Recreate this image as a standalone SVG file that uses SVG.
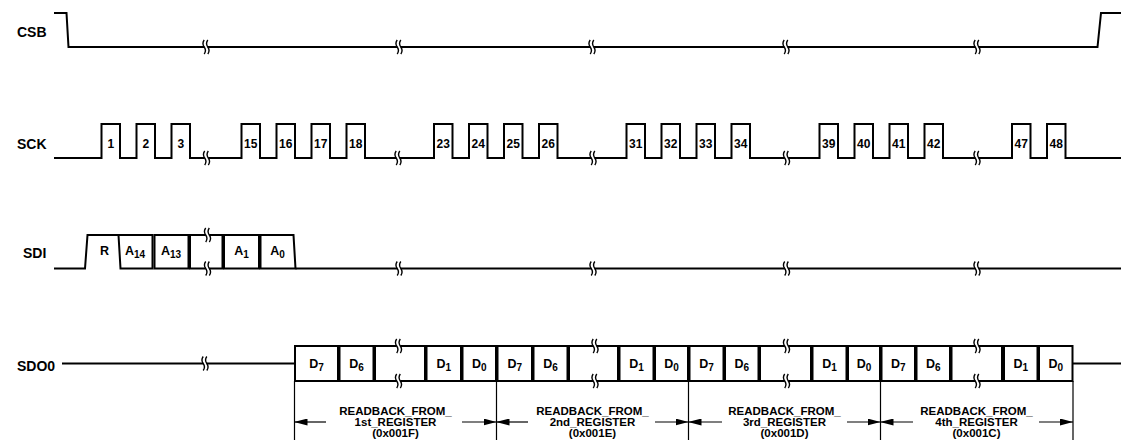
<svg xmlns="http://www.w3.org/2000/svg" width="1139" height="440" viewBox="0 0 1139 440">
<style>
.sig{fill:none;stroke:#000;stroke-width:2;stroke-linejoin:miter}
.box{fill:#fff;stroke:#000;stroke-width:2}
.sq{fill:none;stroke:#000;stroke-width:1.4}
.lbl{font-family:"Liberation Sans",Arial,sans-serif;font-weight:bold;font-size:14px;fill:#000}
.num{font-family:"Liberation Sans",Arial,sans-serif;font-weight:bold;font-size:12px;fill:#000;text-anchor:middle}
.bit{font-family:"Liberation Sans",Arial,sans-serif;font-weight:bold;font-size:12.5px;fill:#000;text-anchor:middle}
.sub{font-size:10px}
.dim{fill:none;stroke:#000;stroke-width:1.2}
.cap{font-family:"Liberation Sans",Arial,sans-serif;font-weight:bold;font-size:11.5px;fill:#000;text-anchor:middle}
</style>
<defs>
<g id="brk">
<rect x="-1.8" y="-3" width="3.6" height="6" fill="#fff"/>
<path class="sq" d="M-1.8,-7 q-2.5,3.5 0,7 q2.5,3.5 0,7"/>
<path class="sq" d="M1.8,-7 q-2.5,3.5 0,7 q2.5,3.5 0,7"/>
</g>
<marker id="arr" markerWidth="13" markerHeight="7" refX="13" refY="3.5" orient="auto" markerUnits="userSpaceOnUse">
<path d="M0,0 L13,3.5 L0,7 Z" fill="#000"/>
</marker>
</defs>
<rect width="1139" height="440" fill="#fff"/>

<g id="csb">
<text class="lbl" x="17" y="37">CSB</text>
<path class="sig" d="M54,13 H66.5 L68.5,47 H1097.5 L1101,13 H1121"/>
<use href="#brk" x="206" y="47"/>
<use href="#brk" x="399" y="47"/>
<use href="#brk" x="592" y="47"/>
<use href="#brk" x="786" y="47"/>
<use href="#brk" x="977" y="47"/>
</g>

<g id="sck">
<text class="lbl" x="17" y="149">SCK</text>
<path class="sig" d="M54,158 H101.5V124H120V158 H136.5V124H155V158 H171.5V124H190V158 H241.5V124H260V158 H276.5V124H295V158 H311.5V124H330V158 H346.5V124H365V158 H434V124H452.5V158 H469V124H487.5V158 H504V124H522.5V158 H539V124H557.5V158 H626.5V124H645V158 H661.5V124H680V158 H696.5V124H715V158 H731.5V124H750V158 H819.5V124H838V158 H854.5V124H873V158 H889.5V124H908V158 H924.5V124H943V158 H1012V124H1030.5V158 H1047V124H1065.5V158 H1121"/>
<use href="#brk" x="206.5" y="158"/>
<use href="#brk" x="398" y="158"/>
<use href="#brk" x="593" y="158"/>
<use href="#brk" x="786.5" y="158"/>
<use href="#brk" x="977" y="158"/>
<text class="num" x="110.75" y="148">1</text>
<text class="num" x="145.75" y="148">2</text>
<text class="num" x="180.75" y="148">3</text>
<text class="num" x="250.75" y="148">15</text>
<text class="num" x="285.75" y="148">16</text>
<text class="num" x="320.75" y="148">17</text>
<text class="num" x="355.75" y="148">18</text>
<text class="num" x="443.25" y="148">23</text>
<text class="num" x="478.25" y="148">24</text>
<text class="num" x="513.25" y="148">25</text>
<text class="num" x="548.25" y="148">26</text>
<text class="num" x="635.75" y="148">31</text>
<text class="num" x="670.75" y="148">32</text>
<text class="num" x="705.75" y="148">33</text>
<text class="num" x="740.75" y="148">34</text>
<text class="num" x="828.75" y="148">39</text>
<text class="num" x="863.75" y="148">40</text>
<text class="num" x="898.75" y="148">41</text>
<text class="num" x="933.75" y="148">42</text>
<text class="num" x="1021.25" y="148">47</text>
<text class="num" x="1056.25" y="148">48</text>
</g>

<g id="sdi">
<text class="lbl" x="23" y="258">SDI</text>
<path class="sig" d="M54,268.5 H85 L87.5,235 H118.5"/>
<path class="box" d="M118.5,235 H152.5 V268.5 H120.5 Z"/>
<path class="box" d="M154.5,235 H188.5 V268.5 H154.5 Z"/>
<path class="box" d="M190,235 H222.5 V268.5 H190 Z"/>
<path class="box" d="M224,235 H259 V268.5 H224 Z"/>
<path class="box" d="M260.5,235 H293.5 L295.5,268.5 H260.5 Z"/>
<path class="sig" d="M295.5,268.5 H1121"/>
<use href="#brk" x="207.5" y="235"/>
<use href="#brk" x="207.5" y="268.5"/>
<use href="#brk" x="399" y="268.5"/>
<use href="#brk" x="593" y="268.5"/>
<use href="#brk" x="786.5" y="268.5"/>
<use href="#brk" x="977" y="268.5"/>
<text class="bit" x="104.5" y="255">R</text>
<text class="bit" x="135" y="255">A<tspan class="sub" dy="3">14</tspan></text>
<text class="bit" x="171" y="255">A<tspan class="sub" dy="3">13</tspan></text>
<text class="bit" x="241.5" y="255">A<tspan class="sub" dy="3">1</tspan></text>
<text class="bit" x="277.5" y="255">A<tspan class="sub" dy="3">0</tspan></text>
</g>

<g id="sdo0">
<text class="lbl" x="17" y="371">SDO0</text>
<path class="sig" d="M62,363.5 H295"/>
<use href="#brk" x="205" y="363.5"/>
<path class="sig" d="M1072.5,363.5 H1121"/>
<path class="box" d="M295,346 H338 V381 H295 Z"/>
<path class="box" d="M339.5,346 H373.5 V381 H339.5 Z"/>
<path class="box" d="M375,346 H425 V381 H375 Z"/>
<path class="box" d="M426.5,346 H461 V381 H426.5 Z"/>
<path class="box" d="M462.5,346 H496 V381 H462.5 Z"/>
<path class="box" d="M497.5,346 H532 V381 H497.5 Z"/>
<path class="box" d="M533.5,346 H567.5 V381 H533.5 Z"/>
<path class="box" d="M569,346 H618 V381 H569 Z"/>
<path class="box" d="M619.5,346 H653.5 V381 H619.5 Z"/>
<path class="box" d="M655,346 H688 V381 H655 Z"/>
<path class="box" d="M689.5,346 H723.5 V381 H689.5 Z"/>
<path class="box" d="M725,346 H758.5 V381 H725 Z"/>
<path class="box" d="M760,346 H811 V381 H760 Z"/>
<path class="box" d="M812.5,346 H846.5 V381 H812.5 Z"/>
<path class="box" d="M848,346 H880 V381 H848 Z"/>
<path class="box" d="M881.5,346 H915 V381 H881.5 Z"/>
<path class="box" d="M916.5,346 H950 V381 H916.5 Z"/>
<path class="box" d="M951.5,346 H1002 V381 H951.5 Z"/>
<path class="box" d="M1004,346 H1037.5 V381 H1004 Z"/>
<path class="box" d="M1039,346 H1072.5 V381 H1039 Z"/>
<use href="#brk" x="398.5" y="346"/>
<use href="#brk" x="398.5" y="381"/>
<use href="#brk" x="595" y="346"/>
<use href="#brk" x="595" y="381"/>
<use href="#brk" x="786.5" y="346"/>
<use href="#brk" x="786.5" y="381"/>
<use href="#brk" x="977" y="346"/>
<use href="#brk" x="977" y="381"/>
<text class="bit" x="316.5" y="368">D<tspan class="sub" dy="3">7</tspan></text>
<text class="bit" x="356.5" y="368">D<tspan class="sub" dy="3">6</tspan></text>
<text class="bit" x="443.8" y="368">D<tspan class="sub" dy="3">1</tspan></text>
<text class="bit" x="479.3" y="368">D<tspan class="sub" dy="3">0</tspan></text>
<text class="bit" x="514.8" y="368">D<tspan class="sub" dy="3">7</tspan></text>
<text class="bit" x="550.5" y="368">D<tspan class="sub" dy="3">6</tspan></text>
<text class="bit" x="636.5" y="368">D<tspan class="sub" dy="3">1</tspan></text>
<text class="bit" x="671.5" y="368">D<tspan class="sub" dy="3">0</tspan></text>
<text class="bit" x="706.5" y="368">D<tspan class="sub" dy="3">7</tspan></text>
<text class="bit" x="741.8" y="368">D<tspan class="sub" dy="3">6</tspan></text>
<text class="bit" x="829.5" y="368">D<tspan class="sub" dy="3">1</tspan></text>
<text class="bit" x="864" y="368">D<tspan class="sub" dy="3">0</tspan></text>
<text class="bit" x="898.3" y="368">D<tspan class="sub" dy="3">7</tspan></text>
<text class="bit" x="933.3" y="368">D<tspan class="sub" dy="3">6</tspan></text>
<text class="bit" x="1020.8" y="368">D<tspan class="sub" dy="3">1</tspan></text>
<text class="bit" x="1055.8" y="368">D<tspan class="sub" dy="3">0</tspan></text>
</g>

<g id="connectors">
<path class="dim" d="M294.5,381 V440 M496.5,381 V440 M688.5,381 V440 M880.5,381 V440 M1073,381 V440"/>
<path class="dim" d="M326,422 H294.5" marker-end="url(#arr)"/>
<path class="dim" d="M462,422 H496.5" marker-end="url(#arr)"/>
<path class="dim" d="M528,422 H496.5" marker-end="url(#arr)"/>
<path class="dim" d="M655,422 H688.5" marker-end="url(#arr)"/>
<path class="dim" d="M722,422 H688.5" marker-end="url(#arr)"/>
<path class="dim" d="M847,422 H880.5" marker-end="url(#arr)"/>
<path class="dim" d="M913,422 H880.5" marker-end="url(#arr)"/>
<path class="dim" d="M1039,422 H1073" marker-end="url(#arr)"/>
</g>

<g id="captions">
<text class="cap" x="395.5" y="414.5">READBACK_FROM_</text>
<text class="cap" x="395.5" y="426">1st_REGISTER</text>
<text class="cap" x="395.5" y="437.3">(0x001F)</text>
<text class="cap" x="592.5" y="414.5">READBACK_FROM_</text>
<text class="cap" x="592.5" y="426">2nd_REGISTER</text>
<text class="cap" x="592.5" y="437.3">(0x001E)</text>
<text class="cap" x="784.5" y="414.5">READBACK_FROM_</text>
<text class="cap" x="784.5" y="426">3rd_REGISTER</text>
<text class="cap" x="784.5" y="437.3">(0x001D)</text>
<text class="cap" x="976.5" y="414.5">READBACK_FROM_</text>
<text class="cap" x="976.5" y="426">4th_REGISTER</text>
<text class="cap" x="976.5" y="437.3">(0x001C)</text>
</g>
</svg>
